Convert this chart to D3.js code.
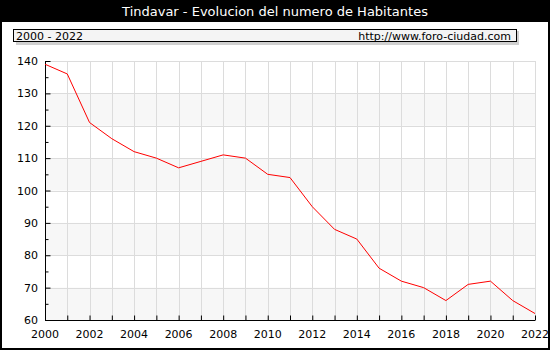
<!DOCTYPE html>
<html>
<head>
<meta charset="utf-8">
<script src="https://cdn.jsdelivr.net/npm/d3@7"></script>
<style>
  body { margin: 0; background: #fff; }
  svg { display: block; font-family: "DejaVu Sans", Verdana, sans-serif; }
</style>
</head>
<body>
<svg id="chart" width="550" height="350"></svg>
<script>
// data
var years = [2000, 2001, 2002, 2003, 2004, 2005, 2006, 2007, 2008, 2009, 2010, 2011,
             2012, 2013, 2014, 2015, 2016, 2017, 2018, 2019, 2020, 2021, 2022];
var habitantes = [139, 136, 121, 116, 112, 110, 107, 109, 111, 110, 105, 104,
                  95, 88, 85, 76, 72, 70, 66, 71, 72, 66, 62];
var yTicks = [60, 70, 80, 90, 100, 110, 120, 130, 140];
var xTickLabels = [2000, 2002, 2004, 2006, 2008, 2010, 2012, 2014, 2016, 2018, 2020, 2022];

var titulo = "Tindavar - Evolucion del numero de Habitantes";
var periodo = "2000 - 2022";
var web = "http://www.foro-ciudad.com";

var svg = d3.select("#chart");
var W = 550, H = 350;
// plot area (note: "top" is reserved on window, so use p-prefixed names)
var pLeft = 45, pRight = 535, pTop = 61, pBottom = 320;

var x = d3.scaleLinear().domain([2000, 2022]).range([pLeft, pRight]);
var y = d3.scaleLinear().domain([60, 140]).range([pBottom, pTop]);

// title bar
svg.append("rect").attr("x", 0).attr("y", 0).attr("width", W).attr("height", 22).attr("fill", "#000");
svg.append("text").attr("x", W / 2).attr("y", 16).attr("text-anchor", "middle")
  .attr("fill", "#fff").style("font-size", "13px").text(titulo);

// outer frame
svg.append("rect").attr("x", 1).attr("y", 1).attr("width", W - 2).attr("height", H - 2)
  .attr("fill", "none").attr("stroke", "#000").attr("stroke-width", 2);

// subtitle box with shadow
svg.append("rect").attr("x", 16).attr("y", 31).attr("width", 503).attr("height", 14).attr("fill", "#d0d0d0");
svg.append("rect").attr("x", 13.5).attr("y", 29.5).attr("width", 503).attr("height", 12)
  .attr("fill", "#f4f4f4").attr("stroke", "#000").attr("stroke-width", 1);
svg.append("text").attr("x", 16).attr("y", 39.5).style("font-size", "11px").text(periodo);
svg.append("text").attr("x", 511).attr("y", 39.5).attr("text-anchor", "end").style("font-size", "11px").text(web);

// bands
var bands = yTicks.slice(0, -1).filter(function(d, i) { return i % 2 === 0; });
svg.append("g").selectAll("rect").data(bands).enter().append("rect")
  .attr("x", pLeft).attr("width", pRight - pLeft)
  .attr("y", function(d) { return y(d + 10); })
  .attr("height", function(d) { return y(d) - y(d + 10); })
  .attr("fill", "#f7f7f7");

// grid
svg.append("g").selectAll("line").data(years).enter().append("line")
  .attr("x1", function(d) { return Math.round(x(d)) + 0.5; })
  .attr("x2", function(d) { return Math.round(x(d)) + 0.5; })
  .attr("y1", pTop).attr("y2", pBottom)
  .attr("stroke", "#dcdcdc");
svg.append("g").selectAll("line").data(yTicks).enter().append("line")
  .attr("x1", pLeft).attr("x2", pRight)
  .attr("y1", function(d) { return Math.round(y(d)) + 0.5; })
  .attr("y2", function(d) { return Math.round(y(d)) + 0.5; })
  .attr("stroke", "#dcdcdc");

// axes
var xAxis = svg.append("g").attr("transform", "translate(0," + (pBottom + 0.5) + ")")
  .call(d3.axisTop(x).tickValues(years).tickSize(5).tickFormat(""));
xAxis.select(".domain").attr("d", "M" + pLeft + ",0H" + pRight);
svg.append("g").selectAll("text").data(xTickLabels).enter().append("text")
  .attr("x", function(d) { return x(d); }).attr("y", 338)
  .attr("text-anchor", "middle").style("font-size", "11px").text(function(d) { return d; });

var minor = d3.range(65, 140, 10);
var yAxis = svg.append("g").attr("transform", "translate(" + (pLeft + 0.5) + ",0)")
  .call(d3.axisRight(y).tickValues(yTicks).tickSize(5).tickFormat(""));
yAxis.select(".domain").attr("d", "M0," + pTop + "V" + pBottom);
svg.append("g").attr("transform", "translate(" + (pLeft + 0.5) + ",0)")
  .call(d3.axisRight(y).tickValues(minor).tickSize(3).tickFormat(""))
  .select(".domain").remove();
svg.append("g").selectAll("text").data(yTicks).enter().append("text")
  .attr("x", 38).attr("y", function(d) { return y(d) + 4; })
  .attr("text-anchor", "end").style("font-size", "11px").text(function(d) { return d; });

// line
var line = d3.line()
  .x(function(d, i) { return x(years[i]); })
  .y(function(d) { return y(d); });
svg.append("path").datum(habitantes).attr("d", line)
  .attr("fill", "none").attr("stroke", "#ff0000").attr("stroke-width", 1);
</script>
</body>
</html>
